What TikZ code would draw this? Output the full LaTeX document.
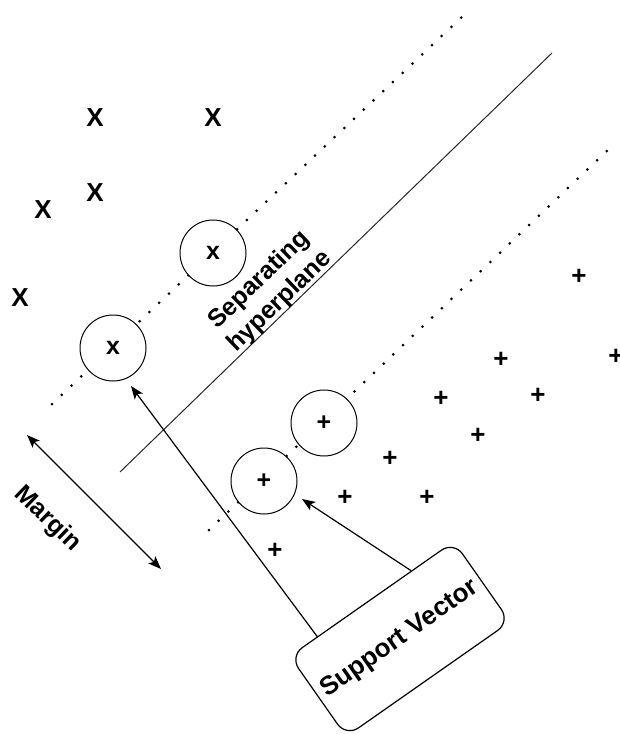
\documentclass[tikz,border=0pt]{standalone}
\usepackage{fontspec}
\setmainfont{Liberation Sans}
\usetikzlibrary{arrows.meta,calc}

\begin{document}
\begin{tikzpicture}[x=1pt,y=-1pt,
  xmark/.style={inner sep=0pt, font=\bfseries\fontsize{26}{26}\selectfont},
  pmark/.style={inner sep=0pt, font=\bfseries\fontsize{26}{26}\selectfont},
  svcircle/.style={circle, draw, line width=1pt, fill=white, minimum size=66pt,
    inner sep=0pt, font=\bfseries\fontsize{25}{25}\selectfont},
  label/.style={inner sep=0pt, align=center, font=\bfseries\fontsize{25}{30}\selectfont},
  dotline/.style={line width=3pt, line cap=round, dash pattern=on 0pt off 13.4pt, black},
  plane/.style={line width=1pt, black!85},
  tip/.style={-{Stealth[length=13pt,width=10pt,inset=3pt]}},
  pointer/.style={line width=1.2pt, tip},
  svbox/.style={draw, line width=1.2pt, rounded corners=15pt, fill=white,
    minimum width=200pt, minimum height=98pt, inner sep=0pt,
    font=\bfseries\fontsize{26}{30}\selectfont},
]
\useasboundingbox (0,0) rectangle (619,734);

% margin boundaries (dotted) and the separating line
\coordinate (ua) at (52,404);
\coordinate (ub) at (465,14);
\coordinate (la) at (209,530);
\coordinate (lb) at (611,147);
\coordinate (ha) at (120,472);
\coordinate (hb) at (552,53);
\draw[dotline] (ua) -- (ub);
\draw[dotline] (la) -- (lb);
\draw[plane] (ha) -- (hb);

% class "x"
\node[xmark] (x1) at (95,118) {X};
\node[xmark] (x2) at (213,118) {X};
\node[xmark] (x3) at (95,193) {X};
\node[xmark] (x4) at (43,210) {X};
\node[xmark] (x5) at (20,298) {X};

% class "+"
\node[pmark] (p1) at (579,277) {+};
\node[pmark] (p2) at (616,357) {+};
\node[pmark] (p3) at (501,360) {+};
\node[pmark] (p4) at (441,399) {+};
\node[pmark] (p5) at (538,396) {+};
\node[pmark] (p6) at (478,436) {+};
\node[pmark] (p7) at (390,459) {+};
\node[pmark] (p8) at (345,498) {+};
\node[pmark] (p9) at (427,498) {+};
\node[pmark] (p10) at (275,551) {+};

% support vectors
\node[svcircle] (sx1) at (213,253) {x};
\node[svcircle] (sx2) at (113,348) {x};
\node[svcircle] (sp1) at (324,423) {+};
\node[svcircle] (sp2) at (264,481) {+};

% labels
\node[label, rotate=44] (hyp) at (270,291) {Separating\\hyperplane};
\node[label, rotate=-44] (mtext) at (47,519) {Margin};

% margin width
\coordinate (ma) at (27,435);
\coordinate (mb) at (161,569);
\draw[line width=1.2pt, {Stealth[length=13pt,width=10pt,inset=3pt]}-{Stealth[length=13pt,width=10pt,inset=3pt]}] (ma) -- (mb);

% callout
\node[svbox, rotate=35] (sv) at (400,639) {Support Vector};
\coordinate (s1) at ($(sv.north west)!0.17!(sv.north east)$);
\coordinate (s2) at ($(sv.north west)!0.74!(sv.north east)$);
\coordinate (t1) at (131,386);
\coordinate (t2) at (302,499);
\draw[pointer] (s1) -- (t1);
\draw[pointer] (s2) -- (t2);
\end{tikzpicture}
\end{document}
